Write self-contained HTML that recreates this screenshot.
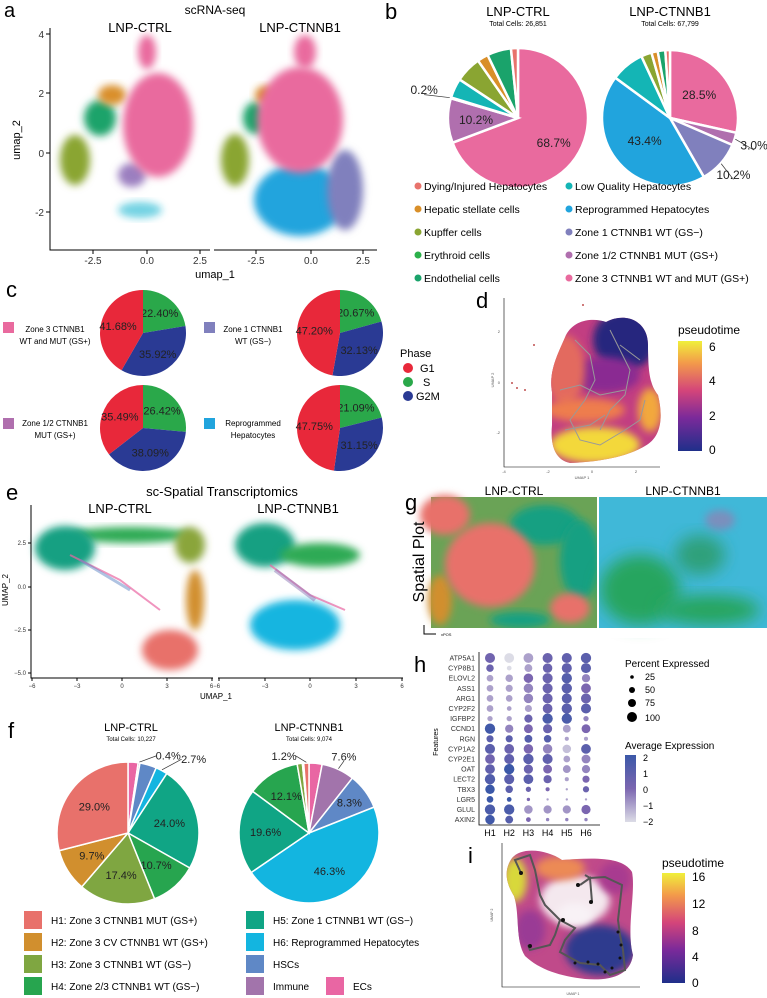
<!DOCTYPE html>
<html><head><meta charset="utf-8"><style>
html,body{margin:0;padding:0;background:#fff;}
svg{display:block;font-family:"Liberation Sans",Arial,sans-serif;}
</style></head><body>
<svg id="fig" width="767" height="998" viewBox="0 0 767 998" xmlns="http://www.w3.org/2000/svg">
<defs>
<filter id="bl" x="-30%" y="-30%" width="160%" height="160%"><feGaussianBlur stdDeviation="4"/></filter>
<filter id="bl2" x="-30%" y="-30%" width="160%" height="160%"><feGaussianBlur stdDeviation="8"/></filter>
<clipPath id="dclip"><path d="M552 392 C548 370 560 350 566 335 C575 318 595 318 606 322 C625 312 648 320 648 345 C648 372 650 385 658 395 C664 420 660 438 645 446 C625 458 595 462 570 463 C555 460 550 445 552 425 Z"/></clipPath>
<clipPath id="iclip"><path d="M512 858 C522 846 548 850 562 860 C592 858 622 856 632 872 C636 892 626 930 633 955 C630 976 610 981 585 979 C560 976 540 970 525 956 C515 940 520 915 514 896 C504 880 505 868 512 858 Z"/></clipPath>
<linearGradient id="ptgrad" x1="0" y1="1" x2="0" y2="0"><stop offset="0" stop-color="#1f2f8a"/><stop offset="0.3" stop-color="#7a2a9a"/><stop offset="0.55" stop-color="#d4457a"/><stop offset="0.8" stop-color="#f39a4a"/><stop offset="1" stop-color="#f0f03a"/></linearGradient>
<linearGradient id="avgrad" x1="0" y1="1" x2="0" y2="0"><stop offset="0" stop-color="#dcdce6"/><stop offset="0.5" stop-color="#7b66b0"/><stop offset="1" stop-color="#3b58a8"/></linearGradient>
</defs>

<!-- Panel a -->
<g>
<text x="4" y="17" font-size="20">a</text>
<text x="215" y="14" font-size="12" text-anchor="middle">scRNA-seq</text>
<text x="140" y="32" font-size="13" text-anchor="middle">LNP-CTRL</text>
<text x="300" y="32" font-size="13" text-anchor="middle">LNP-CTNNB1</text>
<g>
<ellipse cx="75" cy="160" rx="15" ry="25" fill="#8aa532" filter="url(#bl)"/>
<ellipse cx="100" cy="118" rx="16" ry="18" fill="#1aa36b" filter="url(#bl)"/>
<ellipse cx="112" cy="95" rx="14" ry="10" fill="#d98f29" filter="url(#bl)"/>
<ellipse cx="140" cy="210" rx="22" ry="8" fill="#14b5d0" opacity="0.6" filter="url(#bl)"/>
<ellipse cx="132" cy="175" rx="14" ry="12" fill="#9b7fc0" filter="url(#bl)"/>
<ellipse cx="158" cy="125" rx="35" ry="52" fill="#e96a9e" filter="url(#bl)"/>
<ellipse cx="147" cy="52" rx="9" ry="17" fill="#e96a9e" filter="url(#bl)"/>
</g>
<g>
<ellipse cx="235" cy="160" rx="14" ry="26" fill="#8aa532" filter="url(#bl)"/>
<ellipse cx="255" cy="118" rx="12" ry="16" fill="#1aa36b" filter="url(#bl)"/>
<ellipse cx="265" cy="95" rx="10" ry="9" fill="#d98f29" filter="url(#bl)"/>
<ellipse cx="300" cy="200" rx="46" ry="36" fill="#21a4dd" filter="url(#bl)"/>
<ellipse cx="345" cy="190" rx="18" ry="40" fill="#8080bd" filter="url(#bl)"/>
<ellipse cx="300" cy="120" rx="43" ry="53" fill="#e96a9e" filter="url(#bl)"/>
<ellipse cx="305" cy="52" rx="11" ry="17" fill="#e96a9e" filter="url(#bl)"/>
</g>
<g stroke="#000" stroke-width="1" fill="none">
<path d="M50 28 V250 H210"/><path d="M214 250 H377"/>
<path d="M46 34 H50 M46 93 H50 M46 153 H50 M46 212 H50 M93 250 V254 M147 250 V254 M200 250 V254 M256 250 V254 M311 250 V254 M363 250 V254"/>
</g>
<g font-size="10" fill="#333">
<text x="44" y="38" text-anchor="end">4</text><text x="44" y="97" text-anchor="end">2</text><text x="44" y="157" text-anchor="end">0</text><text x="44" y="216" text-anchor="end">-2</text>
<text x="93" y="264" text-anchor="middle">-2.5</text><text x="147" y="264" text-anchor="middle">0.0</text><text x="200" y="264" text-anchor="middle">2.5</text>
<text x="256" y="264" text-anchor="middle">-2.5</text><text x="311" y="264" text-anchor="middle">0.0</text><text x="363" y="264" text-anchor="middle">2.5</text>
</g>
<text x="215" y="278" font-size="11" text-anchor="middle">umap_1</text>
<text x="20" y="140" font-size="11" text-anchor="middle" transform="rotate(-90 20 140)">umap_2</text>
</g>

<!-- Panel b -->
<g>
<text x="385" y="19" font-size="22">b</text>
<text x="518" y="16" font-size="13" text-anchor="middle">LNP-CTRL</text>
<text x="518" y="26" font-size="7" text-anchor="middle">Total Cells: 26,851</text>
<text x="670" y="16" font-size="13" text-anchor="middle">LNP-CTNNB1</text>
<text x="670" y="26" font-size="7" text-anchor="middle">Total Cells: 67,799</text>
<g id="bpies"></g>
<g id="blegend" font-size="10.5"></g>
</g>

<!-- Panel c -->
<g>
<text x="6" y="297" font-size="22">c</text>
<g id="cpies"></g>
<g font-size="8" text-anchor="middle">
<rect x="3" y="322" width="11" height="11" fill="#e96a9e"/><text x="55" y="332">Zone 3 CTNNB1</text><text x="55" y="344">WT and MUT (GS+)</text>
<rect x="204" y="322" width="11" height="11" fill="#8080bd"/><text x="253" y="332">Zone 1 CTNNB1</text><text x="253" y="344">WT (GS−)</text>
<rect x="3" y="418" width="11" height="11" fill="#b06fae"/><text x="55" y="426">Zone 1/2 CTNNB1</text><text x="55" y="438">MUT (GS+)</text>
<rect x="204" y="418" width="11" height="11" fill="#21a4dd"/><text x="253" y="426">Reprogrammed</text><text x="253" y="438">Hepatocytes</text>
</g>
<g font-size="11">
<text x="400" y="357">Phase</text>
<circle cx="408" cy="368" r="5" fill="#e8283a"/><text x="420" y="372">G1</text>
<circle cx="408" cy="382" r="5" fill="#2aa84a"/><text x="423" y="386">S</text>
<circle cx="408" cy="396" r="5" fill="#2a3a94"/><text x="416" y="400">G2M</text>
</g>
</g>

<!-- Panel d -->
<g>
<text x="476" y="308" font-size="22">d</text>
<g clip-path="url(#dclip)">
<rect x="540" y="310" width="130" height="160" fill="#c23e82"/>
<ellipse cx="625" cy="340" rx="32" ry="30" fill="#27287e" filter="url(#bl)"/>
<ellipse cx="605" cy="375" rx="35" ry="18" fill="#8a2a92" filter="url(#bl)"/>
<ellipse cx="565" cy="370" rx="20" ry="35" fill="#e36a5e" filter="url(#bl)"/>
<ellipse cx="650" cy="410" rx="12" ry="22" fill="#f2a83c" filter="url(#bl)"/>
<ellipse cx="585" cy="410" rx="40" ry="12" fill="#ee7d4d" filter="url(#bl)"/>
<ellipse cx="595" cy="445" rx="45" ry="18" fill="#f3d83a" filter="url(#bl)"/>
</g>
<g fill="#c05050"><circle cx="512" cy="383" r="1"/><circle cx="517" cy="388" r="1"/><circle cx="534" cy="345" r="1"/><circle cx="583" cy="305" r="1"/><circle cx="525" cy="390" r="1"/></g>
<g stroke="#999" stroke-width="1" fill="none">
<path d="M575 340 L590 355 L595 380 L585 400 L570 420 L580 440 L600 445 L625 430 L640 420 L645 400"/>
<path d="M610 330 L620 350 L630 370 L625 395 L610 410 L600 430"/>
<path d="M560 390 L580 385 L600 395 L625 390"/>
<path d="M565 430 L590 425 L605 415 M620 345 L640 360"/>
</g>
<g stroke="#000" stroke-width="0.6" fill="none"><path d="M504 298 V467 H660"/></g>
<g font-size="4" fill="#555">
<text x="500" y="333" text-anchor="end">2</text><text x="500" y="384" text-anchor="end">0</text><text x="500" y="434" text-anchor="end">-2</text>
<text x="504" y="473" text-anchor="middle">-4</text><text x="548" y="473" text-anchor="middle">-2</text><text x="592" y="473" text-anchor="middle">0</text><text x="636" y="473" text-anchor="middle">2</text>
<text x="582" y="479" text-anchor="middle">UMAP 1</text><text x="494" y="380" text-anchor="middle" transform="rotate(-90 494 380)">UMAP 2</text>
</g>
<text x="678" y="334" font-size="12">pseudotime</text>
<rect x="678" y="341" width="24" height="110" fill="url(#ptgrad)"/>
<g font-size="12"><text x="709" y="351">6</text><text x="709" y="385">4</text><text x="709" y="420">2</text><text x="709" y="454">0</text></g>
</g>

<!-- Panel e -->
<g>
<text x="6" y="500" font-size="22">e</text>
<text x="222" y="496" font-size="13" text-anchor="middle">sc-Spatial Transcriptomics</text>
<text x="120" y="513" font-size="13" text-anchor="middle">LNP-CTRL</text>
<text x="298" y="513" font-size="13" text-anchor="middle">LNP-CTNNB1</text>
<g>
<ellipse cx="130" cy="535" rx="60" ry="8" fill="#2eaa55" filter="url(#bl)"/>
<ellipse cx="65" cy="548" rx="30" ry="22" fill="#17a082" filter="url(#bl)"/>
<ellipse cx="190" cy="545" rx="15" ry="18" fill="#8aa53a" filter="url(#bl)"/>
<ellipse cx="195" cy="600" rx="9" ry="30" fill="#d18f2e" filter="url(#bl)"/>
<ellipse cx="170" cy="650" rx="28" ry="20" fill="#e8716b" filter="url(#bl)"/>
<path d="M70 555 L120 580 L160 610" stroke="#e966a3" stroke-width="2" fill="none" opacity="0.7"/>
<path d="M80 560 L130 590" stroke="#5f88c6" stroke-width="3" fill="none" opacity="0.5"/>
</g>
<g>
<ellipse cx="265" cy="545" rx="30" ry="22" fill="#17a082" filter="url(#bl)"/>
<ellipse cx="320" cy="555" rx="40" ry="12" fill="#2eaa55" filter="url(#bl)"/>
<ellipse cx="295" cy="625" rx="45" ry="25" fill="#13b5e0" filter="url(#bl)"/>
<path d="M270 565 L310 595 L345 610" stroke="#e966a3" stroke-width="2" fill="none" opacity="0.7"/>
<path d="M275 570 L315 600" stroke="#8f7ab8" stroke-width="4" fill="none" opacity="0.5"/>
</g>
<g stroke="#000" stroke-width="1" fill="none">
<path d="M31 505 V678 H213"/><path d="M218 678 H403"/>
<path d="M28 543 H31 M28 587 H31 M28 630 H31 M28 673 H31 M32 678 V681 M77 678 V681 M122 678 V681 M167 678 V681 M212 678 V681 M219 678 V681 M265 678 V681 M310 678 V681 M356 678 V681 M402 678 V681"/>
</g>
<g font-size="6" fill="#333">
<text x="26" y="545" text-anchor="end">2.5</text><text x="26" y="589" text-anchor="end">0.0</text><text x="26" y="632" text-anchor="end">−2.5</text><text x="26" y="675" text-anchor="end">−5.0</text>
<text x="32" y="688" text-anchor="middle">−6</text><text x="77" y="688" text-anchor="middle">−3</text><text x="122" y="688" text-anchor="middle">0</text><text x="167" y="688" text-anchor="middle">3</text><text x="215" y="688" text-anchor="middle">6−6</text>
<text x="265" y="688" text-anchor="middle">−3</text><text x="310" y="688" text-anchor="middle">0</text><text x="356" y="688" text-anchor="middle">3</text><text x="402" y="688" text-anchor="middle">6</text>
</g>
<text x="216" y="699" font-size="8" text-anchor="middle">UMAP_1</text>
<text x="8" y="590" font-size="8" text-anchor="middle" transform="rotate(-90 8 590)">UMAP_2</text>
</g>

<!-- Panel g -->
<g>
<text x="405" y="510" font-size="22">g</text>
<text x="514" y="495" font-size="12" text-anchor="middle">LNP-CTRL</text>
<text x="683" y="495" font-size="12" text-anchor="middle">LNP-CTNNB1</text>
<g>
<rect x="431" y="497" width="166" height="131" fill="#6aa356"/>
<ellipse cx="445" cy="515" rx="25" ry="20" fill="#e8716b" filter="url(#bl)"/>
<ellipse cx="545" cy="525" rx="35" ry="20" fill="#17a082" filter="url(#bl)"/>
<ellipse cx="580" cy="560" rx="20" ry="40" fill="#17a082" filter="url(#bl)"/>
<ellipse cx="440" cy="600" rx="12" ry="25" fill="#d18f2e" filter="url(#bl)"/>
<ellipse cx="490" cy="565" rx="45" ry="42" fill="#e8716b" filter="url(#bl)"/>
<ellipse cx="570" cy="608" rx="20" ry="15" fill="#e8716b" filter="url(#bl)"/>
<ellipse cx="520" cy="620" rx="30" ry="8" fill="#17a082" filter="url(#bl)"/>
</g>
<g>
<rect x="599" y="497" width="168" height="131" fill="#40b8d8"/>
<ellipse cx="640" cy="590" rx="40" ry="35" fill="#27a55f" filter="url(#bl2)"/>
<ellipse cx="700" cy="555" rx="25" ry="20" fill="#2ea07a" filter="url(#bl2)"/>
<ellipse cx="710" cy="610" rx="50" ry="15" fill="#27a55f" filter="url(#bl2)"/>
<ellipse cx="720" cy="520" rx="15" ry="10" fill="#a274ab" opacity="0.6" filter="url(#bl)"/>
</g>
<rect x="597" y="497" width="2" height="131" fill="#fff"/>
<rect x="431" y="628" width="336" height="10" fill="#fff"/>
<text x="424" y="562" font-size="16" text-anchor="middle" transform="rotate(-90 424 562)">Spatial Plot</text>
<path d="M424 625 V634 H436" stroke="#000" fill="none"/>
<text x="441" y="636" font-size="4">xPOS</text>
</g>

<!-- Panel h -->
<g>
<text x="414" y="672" font-size="22">h</text>
<g id="hplot"></g>
<text x="438" y="742" font-size="7" text-anchor="middle" transform="rotate(-90 438 742)">Features</text>
<text x="625" y="667" font-size="10">Percent Expressed</text>
<g font-size="9">
<circle cx="632" cy="677" r="1.8"/><text x="645" y="680">25</text>
<circle cx="632" cy="690" r="3"/><text x="645" y="693">50</text>
<circle cx="632" cy="703" r="4"/><text x="645" y="706">75</text>
<circle cx="632" cy="717" r="5"/><text x="645" y="721">100</text>
</g>
<text x="625" y="749" font-size="10">Average Expression</text>
<rect x="625" y="755" width="11" height="67" fill="url(#avgrad)"/>
<g font-size="9"><text x="643" y="761">2</text><text x="643" y="777">1</text><text x="643" y="793">0</text><text x="643" y="809">−1</text><text x="643" y="825">−2</text></g>
</g>

<!-- Panel f -->
<g>
<text x="8" y="738" font-size="22">f</text>
<text x="131" y="731" font-size="11" text-anchor="middle">LNP-CTRL</text>
<text x="131" y="741" font-size="6" text-anchor="middle">Total Cells: 10,227</text>
<text x="309" y="731" font-size="11" text-anchor="middle">LNP-CTNNB1</text>
<text x="309" y="741" font-size="6" text-anchor="middle">Total Cells: 9,074</text>
<g id="fpies"></g>
<g id="flegend" font-size="10"></g>
</g>

<!-- Panel i -->
<g>
<text x="468" y="863" font-size="22">i</text>
<g clip-path="url(#iclip)">
<rect x="500" y="845" width="140" height="140" fill="#c04a8a"/>
<ellipse cx="575" cy="900" rx="35" ry="25" fill="#f4e8ee" filter="url(#bl)"/>
<ellipse cx="515" cy="880" rx="12" ry="22" fill="#d8d83a" filter="url(#bl)"/>
<ellipse cx="560" cy="868" rx="25" ry="12" fill="#ec8a55" filter="url(#bl)"/>
<ellipse cx="615" cy="878" rx="16" ry="16" fill="#a83a90" filter="url(#bl)"/>
<ellipse cx="530" cy="930" rx="15" ry="20" fill="#9a3a95" filter="url(#bl)"/>
<ellipse cx="600" cy="950" rx="35" ry="25" fill="#2e3a8e" filter="url(#bl)"/>
<ellipse cx="575" cy="915" rx="18" ry="12" fill="#f8f2f6" filter="url(#bl)"/>
</g>
<g stroke="#555" stroke-width="2" fill="none">
<path d="M521 873 L515 860 L530 855 L535 870 L540 895 L545 905 L550 910 L555 915 L560 920 L555 935 L550 945 L530 950 L528 945"/>
<path d="M560 920 L575 928 L565 940 L560 952 L580 963 L600 965 L610 975 L625 970 L623 950 L620 935 L618 920 L622 885 L605 877 L590 878 L585 875"/>
<path d="M580 885 L590 878 L592 902"/>
</g>
<g fill="#111">
<circle cx="521" cy="873" r="2"/><circle cx="578" cy="885" r="2"/><circle cx="591" cy="902" r="2"/><circle cx="563" cy="920" r="2"/><circle cx="530" cy="946" r="2"/>
<circle cx="575" cy="963" r="1.5"/><circle cx="588" cy="962" r="1.5"/><circle cx="598" cy="964" r="1.5"/><circle cx="605" cy="972" r="1.5"/><circle cx="612" cy="968" r="1.5"/><circle cx="620" cy="958" r="1.5"/><circle cx="621" cy="945" r="1.5"/><circle cx="618" cy="932" r="1.5"/>
</g>
<g stroke="#000" stroke-width="0.6" fill="none"><path d="M502 843 V987 H640"/></g>
<g font-size="3.5" fill="#555"><text x="573" y="995" text-anchor="middle">UMAP 1</text><text x="493" y="915" text-anchor="middle" transform="rotate(-90 493 915)">UMAP 2</text></g>
<text x="662" y="867" font-size="12">pseudotime</text>
<rect x="662" y="873" width="23" height="110" fill="url(#ptgrad)"/>
<g font-size="12"><text x="692" y="881">16</text><text x="692" y="908">12</text><text x="692" y="935">8</text><text x="692" y="961">4</text><text x="692" y="987">0</text></g>
</g>
</svg>
<script>
// ---- data ----
const bCategories = ["Zone 3 CTNNB1 WT and MUT (GS+)","Zone 1/2 CTNNB1 MUT (GS+)","Reprogrammed Hepatocytes","Low Quality Hepatocytes","Kupffer cells","Hepatic stellate cells","Endothelial cells","Dying/Injured Hepatocytes","Zone 1 CTNNB1 WT (GS−)"];
const bCtrlValues = [68.7,10.2,0.2,4.5,6.0,2.5,5.5,1.6,0.8];
const bCtnnb1Values = [28.5,3.0,43.4,8.0,2.5,1.5,1.8,1.1,10.2];
const bCtnnb1Order = [0,1,8,2,3,4,5,6,7];
const bLabelledCtrl = ["68.7%","10.2%","0.2%"];
const bLabelledCtnnb1 = ["28.5%","3.0%","10.2%","43.4%"];
const cPhases = ["S","G2M","G1"];
const cPie1 = [22.40,35.92,41.68];
const cPie2 = [20.67,32.13,47.20];
const cPie3 = [26.42,38.09,35.49];
const cPie4 = [21.09,31.15,47.75];
const fCategories = ["ECs","Immune","HSCs","H6","H5","H4","H3","H2","H1"];
const fCtrlValues = [2.3,0.4,3.8,2.7,24.0,10.7,17.4,9.7,29.0];
const fCtnnb1Values = [3.0,7.6,8.3,46.3,19.6,12.1,1.2,0.3,1.2];
const hGenes = ["ATP5A1","CYP8B1","ELOVL2","ASS1","ARG1","CYP2F2","IGFBP2","CCND1","RGN","CYP1A2","CYP2E1","OAT","LECT2","TBX3","LGR5","GLUL","AXIN2"];
const hClusters = ["H1","H2","H3","H4","H5","H6"];
const hPct = [[90,85,85,90,90,95],[50,20,55,80,90,90],[40,50,80,90,95,60],[40,45,80,90,95,85],[40,40,80,90,90,90],[40,20,45,85,95,90],[25,25,60,95,95,25],[95,60,70,75,55,70],[45,45,55,50,15,15],[90,85,80,80,65,85],[85,90,95,90,40,70],[85,95,75,70,55,60],[95,90,85,60,15,45],[80,50,25,15,5,35],[40,20,10,5,5,5],[95,95,65,60,60,75],[80,55,20,10,10,10]];
const hExp = [[0.3,-2,-1,0.5,0.8,1],[0.5,-2,-1,0.5,0.8,1],[-1,-1,0,0.5,1.2,-0.5],[-1,-1,-0.5,0.5,1,0],[-1,-1,-0.5,0.5,1,0.5],[-1,-1,-1,0.5,1,1],[-1,-1,0.5,1.5,1.5,-0.5],[1.8,-0.5,0,0.5,-1,0],[1,1,1.2,1.2,-1,-1],[1,0.5,0,-0.5,-1.5,1],[0.3,0.8,1,0.8,-1,-0.5],[0.8,2,0.5,0,-0.8,-0.5],[1.3,1,1,0.5,-1,0],[2,1,0.5,0,-1,0.5],[2,2,0,-1,-1,-1],[1.5,1.5,-0.8,-0.8,-0.8,0],[1.8,1.2,0,-0.5,-0.5,-0.5]];

const NS="http://www.w3.org/2000/svg";
function mk(tag,attrs,parent){const e=document.createElementNS(NS,tag);for(const k in attrs)e.setAttribute(k,attrs[k]);parent.appendChild(e);return e;}
const bColors={"Zone 3 CTNNB1 WT and MUT (GS+)":"#e96a9e","Zone 1/2 CTNNB1 MUT (GS+)":"#b06fae","Reprogrammed Hepatocytes":"#21a4dd","Low Quality Hepatocytes":"#14b5b5","Kupffer cells":"#8aa532","Hepatic stellate cells":"#d98f29","Endothelial cells":"#1aa36b","Dying/Injured Hepatocytes":"#e8736c","Zone 1 CTNNB1 WT (GS−)":"#8080bd","Erythroid cells":"#2bb04a"};
const fColors={"ECs":"#e966a3","Immune":"#a274ab","HSCs":"#5f88c6","H6":"#13b5e0","H5":"#10a585","H4":"#27a54f","H3":"#7fa641","H2":"#d18f2e","H1":"#e8716b"};
const phaseColors={"S":"#2aa84a","G2M":"#2a3a94","G1":"#e8283a"};
function pt(cx,cy,r,f){const a=2*Math.PI*f;return [cx+r*Math.sin(a),cy-r*Math.cos(a)];}
// kf: optional per-slice label radius factor overrides; dx: optional horizontal nudges (styling)
function drawPie(parent,name,cx,cy,r,vals,cols,labels,fs,sw,inF,kf,dx){
  const g=mk("g",{},parent);
  
  
  const tot=vals.reduce((a,b)=>a+b,0);let acc=0;
  vals.forEach((v,i)=>{
    const f0=acc/tot,f1=(acc+v)/tot;acc+=v;
    const p0=pt(cx,cy,r,f0),p1=pt(cx,cy,r,f1);
    const s=mk("path",{d:`M${cx} ${cy} L${p0[0]} ${p0[1]} A${r} ${r} 0 ${(f1-f0)>0.5?1:0} 1 ${p1[0]} ${p1[1]} Z`,fill:cols[i],stroke:"#fff","stroke-width":sw},g);
    
    
    const lab=labels[i];
    if(lab){
      const pct=v/tot*100;let k=pct>=7?inF:1.22;
      if(kf&&kf[i])k=kf[i];
      const q=pt(cx,cy,r*k,(f0+f1)/2);
      const nx=(dx&&dx[i])?dx[i]:0;
      if(k>1){
        const e0=pt(cx,cy,r*1.01,(f0+f1)/2);
        const ln=mk("line",{x1:e0[0],y1:e0[1],x2:q[0]+nx-(nx>0?12:(nx<0?-12:0)),y2:q[1]+(nx?0:fs*0.4),stroke:"#333","stroke-width":0.7},g);
        
        
      }
      const t=mk("text",{x:q[0]+nx,y:q[1]+fs*0.35,"font-size":fs,"text-anchor":"middle",fill:"#222"},g);
      t.textContent=lab;
      
      
    }
  });
}
function fmt(v){return v.toFixed(1)+"%";}
// b pies
const bp=document.getElementById("bpies");
drawPie(bp,"b-ctrl-pie",518,118,70,bCtrlValues.slice(0,8),bCategories.slice(0,8).map(c=>bColors[c]),bCtrlValues.slice(0,8).map(v=>bLabelledCtrl.includes(fmt(v))?fmt(v):null),12,2.5,0.62,[null,0.6,1.4]);
const b2v=bCtnnb1Order.map(i=>bCtnnb1Values[i]);
drawPie(bp,"b-ctnnb1-pie",670,118,68,b2v,bCtnnb1Order.map(i=>bColors[bCategories[i]]),b2v.map(v=>bLabelledCtnnb1.includes(fmt(v))?fmt(v):null),12,2.5,0.55,[null,1.3,1.25,0.5]);
// b legend
const bLegendItems=["Dying/Injured Hepatocytes","Hepatic stellate cells","Kupffer cells","Erythroid cells","Endothelial cells","Low Quality Hepatocytes","Reprogrammed Hepatocytes","Zone 1 CTNNB1 WT (GS−)","Zone 1/2 CTNNB1 MUT (GS+)","Zone 3 CTNNB1 WT and MUT (GS+)"];
const bl=document.getElementById("blegend");
bLegendItems.forEach((n,i)=>{
  const col=i<5?0:1,row=i%5;const x=col?569:418,y=186+row*23;
  const d=mk("circle",{cx:x,cy:y,r:3.5,fill:bColors[n]},bl);
  
  
  const t=mk("text",{x:x+6,y:y+4},bl);t.textContent=n;
  
  
});
// c pies
const cp=document.getElementById("cpies");
const cCols=cPhases.map(p=>phaseColors[p]);
[[cPie1,143,333],[cPie2,340,333],[cPie3,143,428],[cPie4,340,428]].forEach((a,i)=>{
  drawPie(cp,"c-pie-"+(i+1),a[1],a[2],43,a[0],cCols,a[0].map(v=>v.toFixed(2)+"%"),11,0,0.6);
});
// f pies
const fp=document.getElementById("fpies");
const fCols=fCategories.map(c=>fColors[c]);
drawPie(fp,"f-ctrl-pie",128,833,71,fCtrlValues,fCols,fCtrlValues.map((v,i)=>(i===1||i>=3)?fmt(v):null),11,1.5,0.6,[null,1.1,null,1.18],[0,28,0,26]);
drawPie(fp,"f-ctnnb1-pie",309,833,70,fCtnnb1Values,fCols,fCtnnb1Values.map((v,i)=>(i>=1&&i<=5)||i===8?fmt(v):null),11,1.5,0.62,[null,1.2,0.72,null,null,null,null,null,1.1],[0,0,0,0,0,0,0,0,-22]);
// f legend
const fLegend=[["H1: Zone 3 CTNNB1 MUT (GS+)","H1",24,920],["H2: Zone 3 CV CTNNB1 WT (GS+)","H2",24,942],["H3: Zone 3 CTNNB1 WT (GS−)","H3",24,964],["H4: Zone 2/3 CTNNB1 WT (GS−)","H4",24,986],["H5: Zone 1 CTNNB1 WT (GS−)","H5",246,920],["H6: Reprogrammed Hepatocytes","H6",246,942],["HSCs","HSCs",246,964],["Immune","Immune",246,986],["ECs","ECs",326,986]];
const fl=document.getElementById("flegend");
fLegend.forEach(e=>{
  const r=mk("rect",{x:e[2],y:e[3]-9,width:18,height:18,fill:fColors[e[1]]},fl);
  
  
  const t=mk("text",{x:e[2]+27,y:e[3]+4},fl);t.textContent=e[0];
  
  
});
// h dot plot
const hp=document.getElementById("hplot");
const hx=i=>490+i*19.2, hy=j=>658+j*10.1, hr=p=>Math.sqrt(p/100)*5.3;
function hcol(v){const t=(v+2)/4;const A=[220,220,230],B=[123,102,176],C=[59,88,168];let a,b,u;if(t<0.5){a=A;b=B;u=t*2;}else{a=B;b=C;u=(t-0.5)*2;}return `rgb(${a.map((c,k)=>Math.round(c+(b[k]-c)*u)).join(",")})`;}
const ax=mk("path",{d:"M479 652 V825 H600",stroke:"#000","stroke-width":0.8,fill:"none"},hp);


hGenes.forEach((g,j)=>{
  const t=mk("text",{x:475,y:hy(j)+2.5,"font-size":7,"text-anchor":"end",fill:"#333"},hp);t.textContent=g;
  
  
  hClusters.forEach((c,i)=>{
    const d=mk("circle",{cx:hx(i),cy:hy(j),r:hr(hPct[j][i]),fill:hcol(hExp[j][i])},hp);
    
    
  });
});
hClusters.forEach((c,i)=>{
  const t=mk("text",{x:hx(i),y:836,"font-size":9,"text-anchor":"middle"},hp);t.textContent=c;
  
  
});
</script>
</body></html>
